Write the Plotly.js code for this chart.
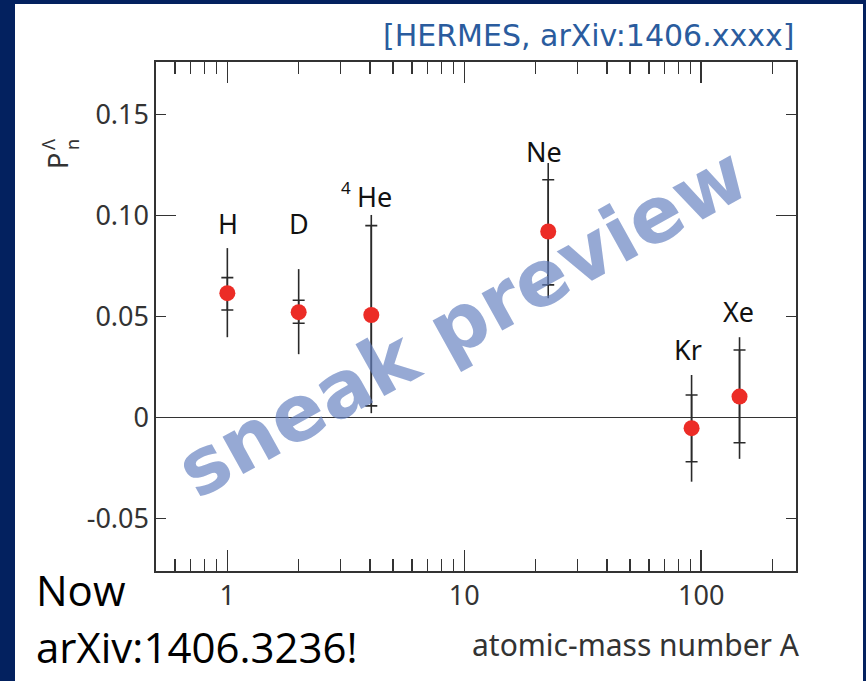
<!DOCTYPE html>
<html>
<head>
<meta charset="utf-8">
<script src="https://cdn.plot.ly/plotly-3.0.1.min.js"></script>
<style>html,body{margin:0;padding:0;background:#03215f;}</style>
</head>
<body>
<div id="chart" style="width:866px;height:681px;"></div>
<script>
// ---- data ----
const targets   = ["H", "D", "4He", "Ne", "Kr", "Xe"];
const massA     = [1, 2, 4.05, 22.6, 91, 145];
const polar     = [0.0616, 0.0522, 0.0508, 0.0921, -0.0052, 0.0104];
const statUp    = [0.0077, 0.0059, 0.0442, 0.0256, 0.0164, 0.0231];
const statDown  = [0.0083, 0.0055, 0.0450, 0.0264, 0.0166, 0.0228];
const totUp     = [0.0223, 0.0213, 0.0495, 0.0339, 0.0263, 0.0294];
const totDown   = [0.0218, 0.0208, 0.0486, 0.0330, 0.0265, 0.0308];
const xMajorTicks = [1, 10, 100];
const xMinorTicks = [0.6,0.7,0.8,0.9,2,3,4,5,6,7,8,9,20,30,40,50,60,70,80,90,200];
const yTickVals   = [-0.05, 0, 0.05, 0.10, 0.15];
const yTickText   = ["-0.05", "0", "0.05", "0.10", "0.15"];
const yLongTicks  = [0, 0.10];

// ---- layout geometry (pixels) ----
const W = 866, H = 681;
const M = {l:156, r:70, t:62, b:110};
const PW = W - M.l - M.r, PH = H - M.t - M.b;
const px = v => (v - M.l) / PW;
const py = v => (H - M.b - v) / PH;

const errColor = "#2a2a2a";
const traces = [
  {x: massA, y: polar, type: "scatter", mode: "markers", marker: {size: 1, opacity: 0},
   error_y: {type: "data", symmetric: false, array: totUp, arrayminus: totDown, width: 0, thickness: 1.6, color: errColor},
   hoverinfo: "skip", showlegend: false},
  {x: massA, y: polar, type: "scatter", mode: "markers", marker: {size: 1, opacity: 0},
   error_y: {type: "data", symmetric: false, array: statUp, arrayminus: statDown, width: 6, thickness: 1.6, color: errColor},
   hoverinfo: "skip", showlegend: false},
  {x: massA, y: polar, type: "scatter", mode: "markers", text: targets,
   marker: {size: 16, color: "#ec2c26", line: {width: 0}}, showlegend: false}
];

const labelFont = {family: "Noto Sans, sans-serif", size: 27, color: "#111"};
// label positions in pixels (text placement only)
const labelPos = [[228, 223], [299, 223], [374, 196], [544, 151], [688, 349], [738, 311]];
const labelText = ["H", "D", "He", "Ne", "Kr", "Xe"];
const annotations = [];

// watermark
annotations.push({text: "sneak preview", xref: "paper", yref: "paper", x: px(462), y: py(322),
  xanchor: "center", yanchor: "middle", showarrow: false, textangle: -29,
  font: {family: "DejaVu Sans, sans-serif", size: 78, weight: "bold", color: "rgba(100,128,192,0.68)"}});

labelText.forEach((t, i) => annotations.push({
  text: t, xref: "paper", yref: "paper", x: px(labelPos[i][0]), y: py(labelPos[i][1]),
  xanchor: "center", yanchor: "middle", showarrow: false, font: labelFont
}));
annotations.push({text: "4", xref: "paper", yref: "paper", x: px(346), y: py(187),
  xanchor: "center", yanchor: "middle", showarrow: false, font: {family: "Noto Sans, sans-serif", size: 17, color: "#111"}});

// header
annotations.push({text: "[HERMES, arXiv:1406.xxxx]", xref: "paper", yref: "paper", x: px(796), y: py(36),
  xanchor: "right", yanchor: "middle", showarrow: false,
  font: {family: "DejaVu Sans, sans-serif", size: 30, color: "#2a5c9e"}});

// x axis title
annotations.push({text: "atomic-mass number A", xref: "paper", yref: "paper", x: px(802), y: py(644),
  xanchor: "right", yanchor: "middle", showarrow: false,
  font: {family: "Noto Sans, sans-serif", size: 30, color: "#333"}});

// y axis title P_n^Λ (rotated)
annotations.push({text: "P", xref: "paper", yref: "paper", x: px(58), y: py(161),
  xanchor: "center", yanchor: "middle", showarrow: false, textangle: -90,
  font: {family: "Noto Sans, sans-serif", size: 27, color: "#333"}});
annotations.push({text: "n", xref: "paper", yref: "paper", x: px(72), y: py(145),
  xanchor: "center", yanchor: "middle", showarrow: false, textangle: -90,
  font: {family: "Noto Sans, sans-serif", size: 18, color: "#333"}});
annotations.push({text: "Λ", xref: "paper", yref: "paper", x: px(48), y: py(145),
  xanchor: "center", yanchor: "middle", showarrow: false, textangle: -90,
  font: {family: "Noto Sans, sans-serif", size: 18, color: "#333"}});

// bottom-left note
annotations.push({text: "Now", xref: "paper", yref: "paper", x: px(34), y: py(589),
  xanchor: "left", yanchor: "middle", showarrow: false,
  font: {family: "Open Sans, sans-serif", size: 42, color: "#000"}});
annotations.push({text: "arXiv:1406.3236!", xref: "paper", yref: "paper", x: px(34), y: py(646),
  xanchor: "left", yanchor: "middle", showarrow: false,
  font: {family: "Open Sans, sans-serif", size: 42, color: "#000"}});

const axisCommon = {
  showline: true, linecolor: "#333", linewidth: 1.6, mirror: "ticks",
  ticks: "inside", tickcolor: "#333", tickwidth: 1.6, showgrid: false,
  tickfont: {family: "Noto Sans, sans-serif", size: 27, color: "#333"}
};

const layout = {
  width: W, height: H, margin: M,
  paper_bgcolor: "#03215f", plot_bgcolor: "#ffffff",
  showlegend: false,
  xaxis: Object.assign({}, axisCommon, {
    type: "log", range: [Math.log10(0.5), Math.log10(251)],
    tickmode: "array", tickvals: xMajorTicks, ticktext: xMajorTicks.map(String), ticklen: 21,
    zeroline: false,
    minor: {tickmode: "array", tickvals: xMinorTicks, ticks: "inside", ticklen: 12, tickwidth: 1.6, tickcolor: "#333", showgrid: false}
  }),
  yaxis: Object.assign({}, axisCommon, {
    range: [-0.0759, 0.176],
    tickmode: "array", tickvals: yTickVals, ticktext: yTickText, ticklen: 10,
    zeroline: true, zerolinecolor: "#333", zerolinewidth: 1.6,
    minor: {tickmode: "array", tickvals: yLongTicks, ticks: "inside", ticklen: 20, tickwidth: 1.6, tickcolor: "#333", showgrid: false}
  }),
  shapes: [
    {type: "rect", xref: "paper", yref: "paper", layer: "below",
     x0: px(15), x1: px(863), y0: py(4), y1: py(690), fillcolor: "#ffffff", line: {width: 0}}
  ],
  annotations: annotations
};

Plotly.newPlot("chart", traces, layout, {displayModeBar: false, staticPlot: true});
</script>
</body>
</html>
